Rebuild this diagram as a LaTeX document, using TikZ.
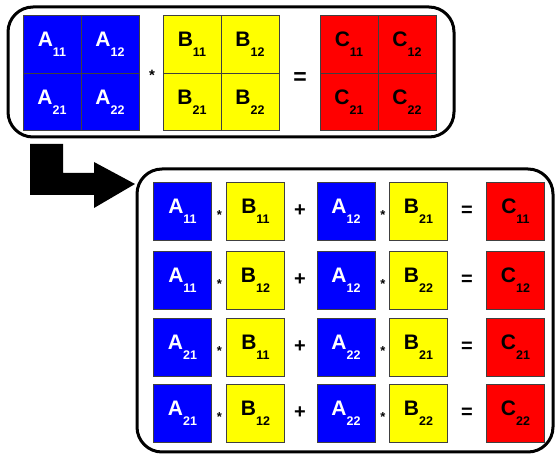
\documentclass[tikz,border=0pt]{standalone}
\usepackage{fontspec}
\setmainfont{Liberation Sans}
\definecolor{mblue}{RGB}{0,0,255}
\definecolor{myellow}{RGB}{255,255,0}
\definecolor{mred}{RGB}{255,0,0}
\newcommand\mlab[2]{{\fontsize{21}{21}\selectfont\bfseries #1}\raisebox{-10pt}{\fontsize{12.5}{12.5}\selectfont\bfseries #2}}
\tikzset{
  cellA/.style={draw=black!75, line width=0.8pt, fill=mblue, text=white, minimum width=58pt, minimum height=57.5pt, inner sep=0pt},
  cellB/.style={cellA, fill=myellow, text=black},
  cellC/.style={cellA, fill=mred, text=black},
  bcellA/.style={cellA, minimum height=58pt},
  bcellB/.style={cellB, minimum height=58pt},
  bcellC/.style={cellC, minimum height=58pt},
  frame/.style={draw=black, line width=3pt, rounded corners=25pt},
  opsym/.style={font=\fontsize{20}{20}\selectfont\bfseries, inner sep=0pt},
  starsym/.style={font=\fontsize{15}{15}\selectfont\bfseries, inner sep=0pt},
  smallstar/.style={font=\fontsize{13}{13}\selectfont\bfseries, inner sep=0pt},
}
\begin{document}
\begin{tikzpicture}[x=1pt,y=-1pt]
\useasboundingbox (0,0) rectangle (555,454);
% frames
\draw[frame] (8,7) rectangle (454,137);
\draw[frame] (137,169) rectangle (553,452);
% big arrow
\fill[black] (30,144) -- (63,144) -- (63,173) -- (94,173) -- (94,162) -- (135,184) -- (94,208) -- (94,195) -- (30,195) -- cycle;
% top matrices
\node[cellA] (ta11) at (52,44.5) {\mlab{A}{11}};
\node[cellA] (ta12) at (110,44.5) {\mlab{A}{12}};
\node[cellA] (ta21) at (52,102) {\mlab{A}{21}};
\node[cellA] (ta22) at (110,102) {\mlab{A}{22}};
\node[starsym] (tstar) at (152,75.5) {*};
\node[cellB] (tb11) at (192,44.5) {\mlab{B}{11}};
\node[cellB] (tb12) at (250,44.5) {\mlab{B}{12}};
\node[cellB] (tb21) at (192,102) {\mlab{B}{21}};
\node[cellB] (tb22) at (250,102) {\mlab{B}{22}};
\node[opsym, font=\fontsize{23}{23}\selectfont\bfseries] (teq) at (300,79) {=};
\node[cellC] (tc11) at (349,44.5) {\mlab{C}{11}};
\node[cellC] (tc12) at (407,44.5) {\mlab{C}{12}};
\node[cellC] (tc21) at (349,102) {\mlab{C}{21}};
\node[cellC] (tc22) at (407,102) {\mlab{C}{22}};
% bottom rows
\foreach \r/\y/\ai/\bi/\aj/\bj/\ci in {1/211/11/11/12/21/11, 2/280/11/12/12/22/12, 3/347/21/11/22/21/21, 4/413/21/12/22/22/22} {
  \node[bcellA] (a1\r) at (182.5,\y) {\mlab{A}{\ai}};
  \node[smallstar] (s1\r) at (219.5,\y+4) {*};
  \node[bcellB] (b1\r) at (255.5,\y) {\mlab{B}{\bi}};
  \node[opsym] (p\r) at (300,\y) {+};
  \node[bcellA] (a2\r) at (346,\y) {\mlab{A}{\aj}};
  \node[smallstar] (s2\r) at (383,\y+4) {*};
  \node[bcellB] (b2\r) at (418.5,\y) {\mlab{B}{\bj}};
  \node[opsym] (e\r) at (467,\y) {=};
  \node[bcellC] (c\r) at (515.5,\y) {\mlab{C}{\ci}};
}
\end{tikzpicture}
\end{document}
